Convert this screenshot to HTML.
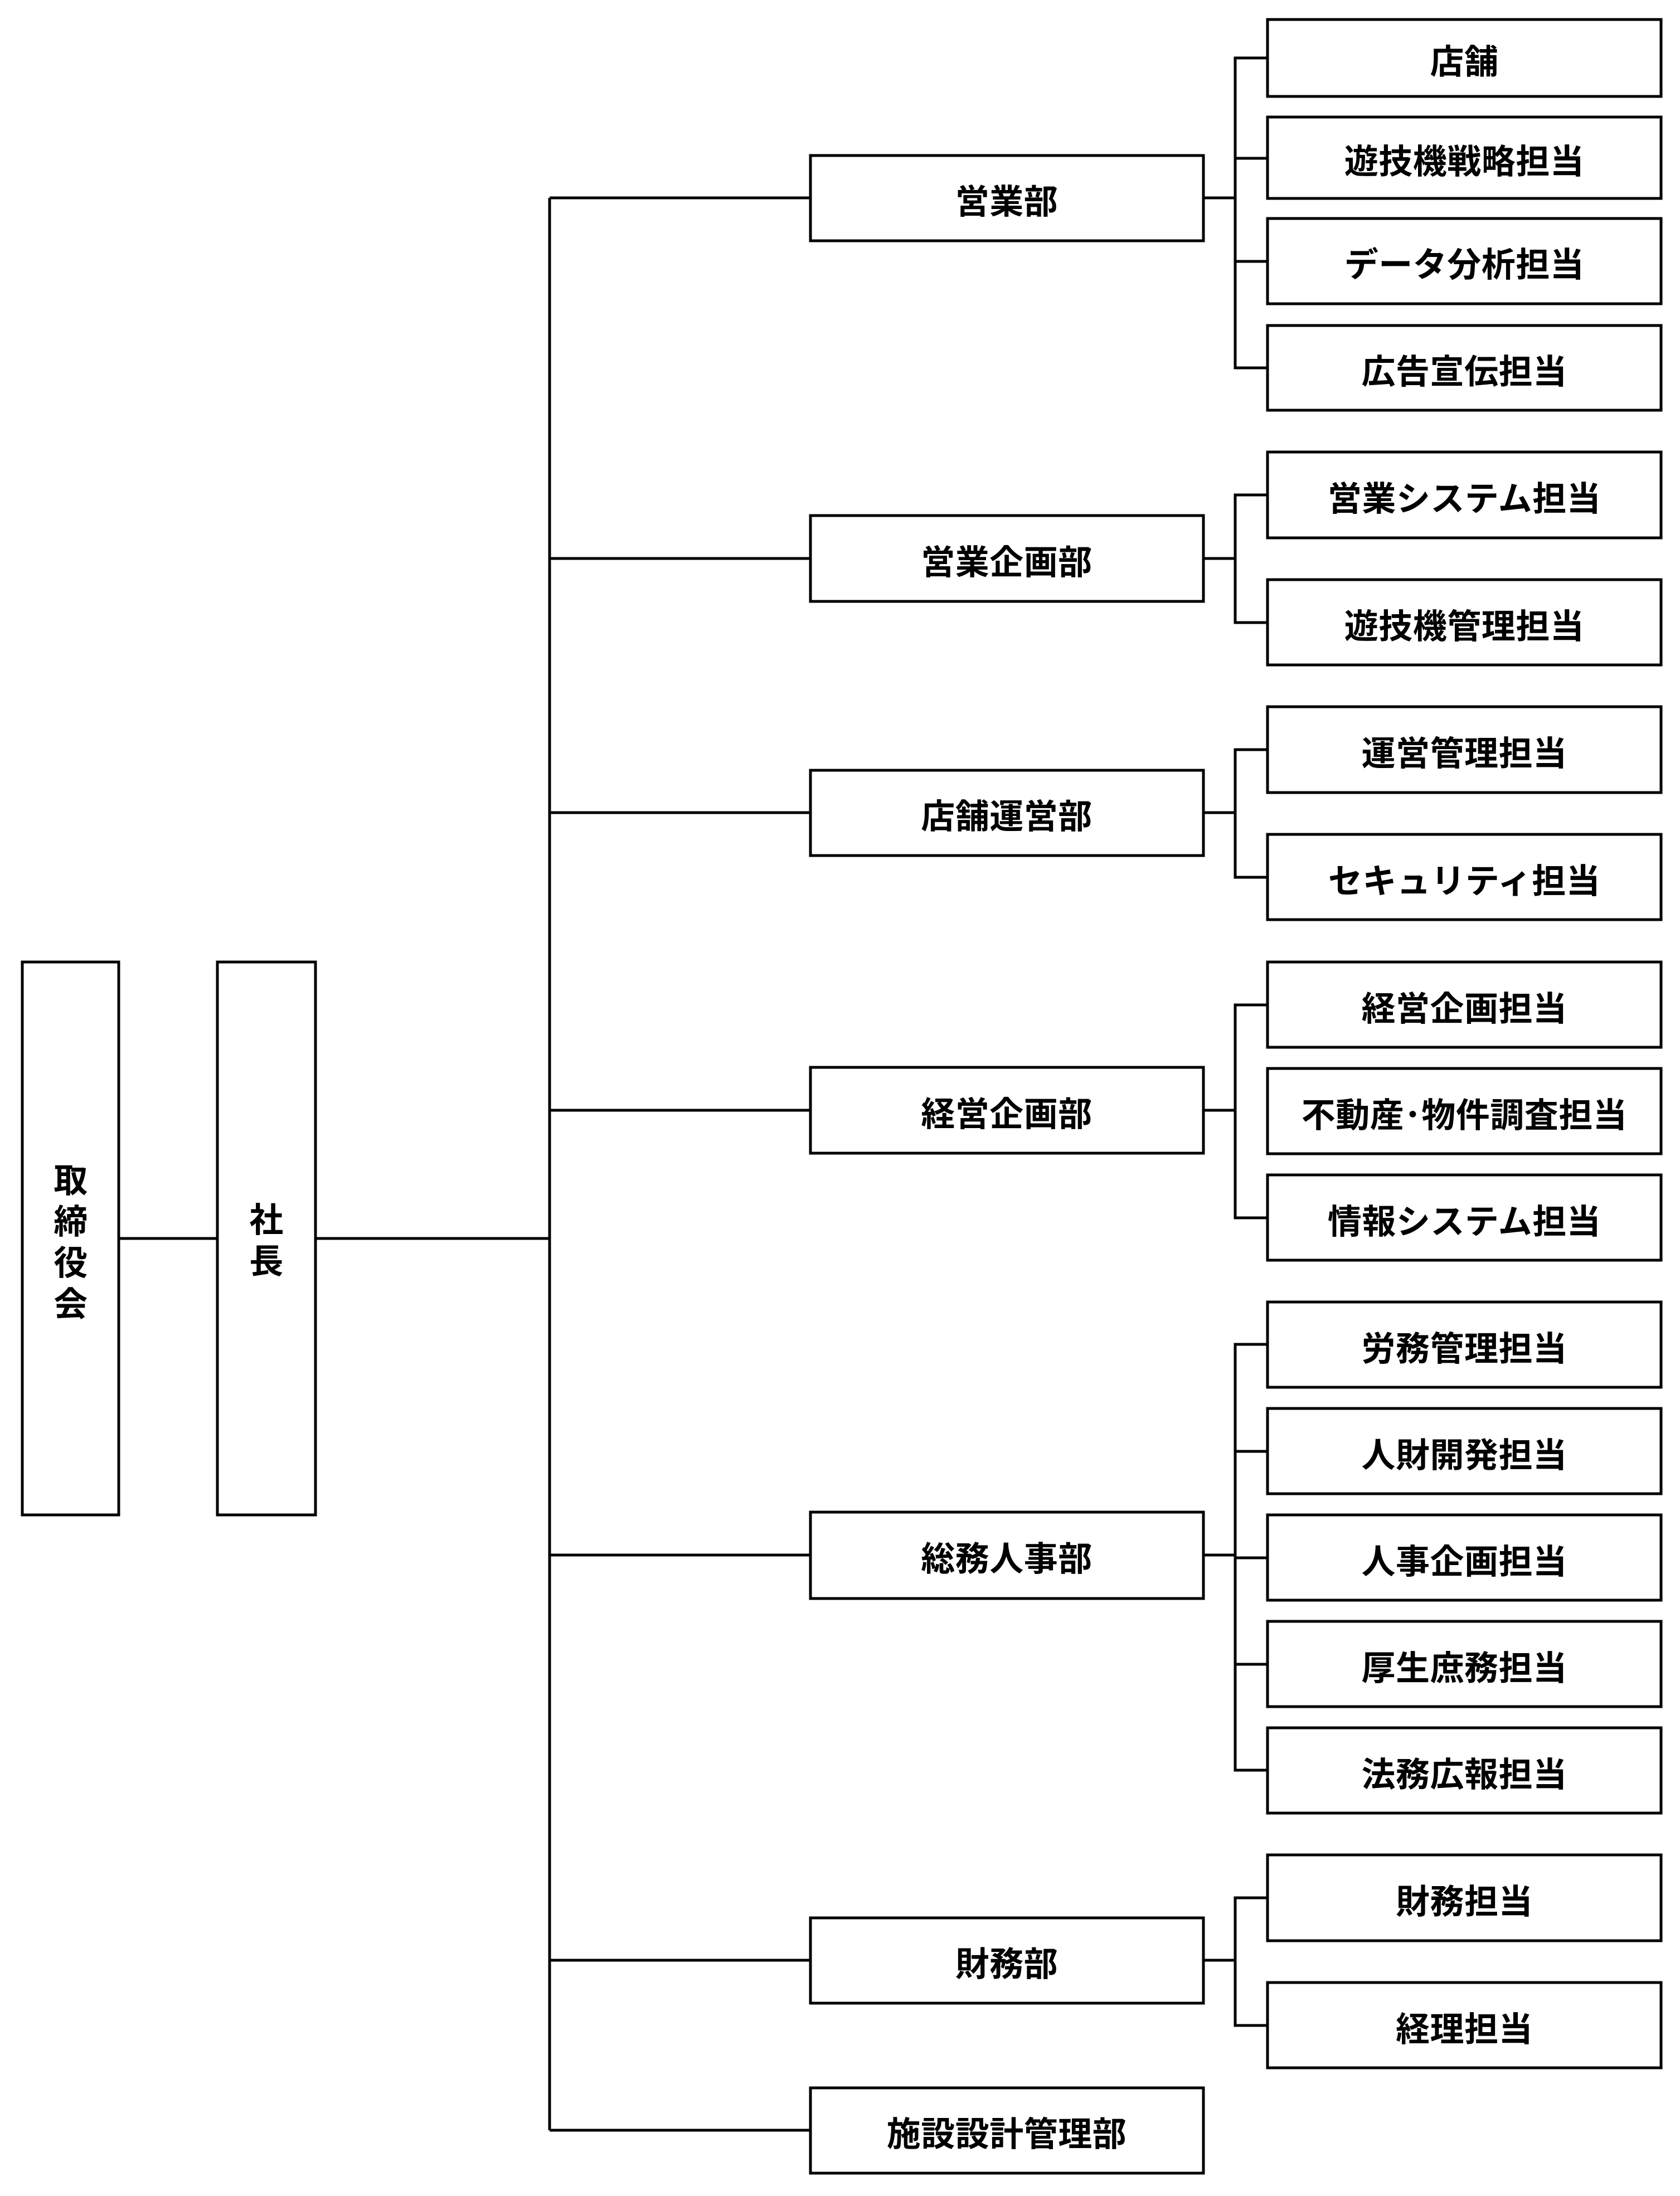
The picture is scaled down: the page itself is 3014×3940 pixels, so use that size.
<!DOCTYPE html>
<html><head><meta charset="utf-8"><style>
html,body{margin:0;padding:0;background:#fff}
svg{display:block}
text{font-family:"Liberation Sans","Noto Sans CJK JP",sans-serif;font-weight:bold;font-size:61px;fill:#000;letter-spacing:0.5px}
</style></head><body>
<svg width="3014" height="3940" viewBox="0 0 3014 3940" xmlns="http://www.w3.org/2000/svg">
<g fill="#fff" stroke="#000" stroke-width="5">
<rect x="40" y="1726" width="173" height="992"/>
<rect x="390" y="1726" width="176" height="992"/>
</g>
<g stroke="#000" stroke-width="5" fill="none">
<line x1="213" y1="2222" x2="390" y2="2222"/>
<line x1="566" y1="2222" x2="986" y2="2222"/>
<line x1="986" y1="355" x2="986" y2="3822"/>
<line x1="986" y1="355" x2="1454" y2="355"/>
<line x1="986" y1="1002" x2="1454" y2="1002"/>
<line x1="986" y1="1458" x2="1454" y2="1458"/>
<line x1="986" y1="1992" x2="1454" y2="1992"/>
<line x1="986" y1="2790" x2="1454" y2="2790"/>
<line x1="986" y1="3517" x2="1454" y2="3517"/>
<line x1="986" y1="3822" x2="1454" y2="3822"/>
<line x1="2159" y1="355" x2="2216" y2="355"/><polyline points="2274,104 2216,104 2216,660 2274,660"/><line x1="2216" y1="284" x2="2274" y2="284"/><line x1="2216" y1="469" x2="2274" y2="469"/>
<line x1="2159" y1="1002" x2="2216" y2="1002"/><polyline points="2274,888 2216,888 2216,1117 2274,1117"/>
<line x1="2159" y1="1458" x2="2216" y2="1458"/><polyline points="2274,1345 2216,1345 2216,1574 2274,1574"/>
<line x1="2159" y1="1992" x2="2216" y2="1992"/><polyline points="2274,1803 2216,1803 2216,2185 2274,2185"/>
<line x1="2159" y1="2790" x2="2216" y2="2790"/><polyline points="2274,2412 2216,2412 2216,3176 2274,3176"/><line x1="2216" y1="2604" x2="2274" y2="2604"/><line x1="2216" y1="2795" x2="2274" y2="2795"/><line x1="2216" y1="2986" x2="2274" y2="2986"/>
<line x1="2159" y1="3517" x2="2216" y2="3517"/><polyline points="2274,3405 2216,3405 2216,3634 2274,3634"/>
</g>
<g fill="#fff" stroke="#000" stroke-width="5">
<rect x="1454" y="279" width="705" height="153"/>
<rect x="1454" y="925" width="705" height="154"/>
<rect x="1454" y="1382" width="705" height="153"/>
<rect x="1454" y="1915" width="705" height="154"/>
<rect x="1454" y="2713" width="705" height="155"/>
<rect x="1454" y="3441" width="705" height="153"/>
<rect x="1454" y="3746" width="705" height="153"/>
<rect x="2274" y="35" width="706" height="138"/>
<rect x="2274" y="210" width="706" height="146"/>
<rect x="2274" y="392" width="706" height="153"/>
<rect x="2274" y="584" width="706" height="152"/>
<rect x="2274" y="811" width="706" height="154"/>
<rect x="2274" y="1040" width="706" height="153"/>
<rect x="2274" y="1268" width="706" height="154"/>
<rect x="2274" y="1497" width="706" height="153"/>
<rect x="2274" y="1726" width="706" height="153"/>
<rect x="2274" y="1917" width="706" height="153"/>
<rect x="2274" y="2108" width="706" height="153"/>
<rect x="2274" y="2336" width="706" height="153"/>
<rect x="2274" y="2527" width="706" height="153"/>
<rect x="2274" y="2718" width="706" height="153"/>
<rect x="2274" y="2909" width="706" height="153"/>
<rect x="2274" y="3100" width="706" height="153"/>
<rect x="2274" y="3328" width="706" height="154"/>
<rect x="2274" y="3557" width="706" height="153"/>
</g>
<g text-anchor="middle" dominant-baseline="central">
<text x="127" y="2118">取</text><text x="127" y="2192">締</text><text x="127" y="2266">役</text><text x="127" y="2340">会</text>
<text x="478" y="2189">社</text><text x="478" y="2263">長</text>
<text x="1806" y="362">営業部</text>
<text x="1806" y="1009">営業企画部</text>
<text x="1806" y="1465">店舗運営部</text>
<text x="1806" y="1999">経営企画部</text>
<text x="1806" y="2797">総務人事部</text>
<text x="1806" y="3524">財務部</text>
<text x="1806" y="3829">施設設計管理部</text>
<text x="2627" y="111">店舗</text>
<text x="2627" y="290">遊技機戦略担当</text>
<text x="2627" y="475">データ分析担当</text>
<text x="2627" y="667">広告宣伝担当</text>
<text x="2627" y="895">営業システム担当</text>
<text x="2627" y="1124">遊技機管理担当</text>
<text x="2627" y="1352">運営管理担当</text>
<text x="2627" y="1581">セキュリティ担当</text>
<text x="2627" y="1810">経営企画担当</text>
<text x="2627" y="2001">不動産･物件調査担当</text>
<text x="2627" y="2192">情報システム担当</text>
<text x="2627" y="2420">労務管理担当</text>
<text x="2627" y="2611">人財開発担当</text>
<text x="2627" y="2802">人事企画担当</text>
<text x="2627" y="2993">厚生庶務担当</text>
<text x="2627" y="3184">法務広報担当</text>
<text x="2627" y="3412">財務担当</text>
<text x="2627" y="3641">経理担当</text>
</g>
</svg>
</body></html>
